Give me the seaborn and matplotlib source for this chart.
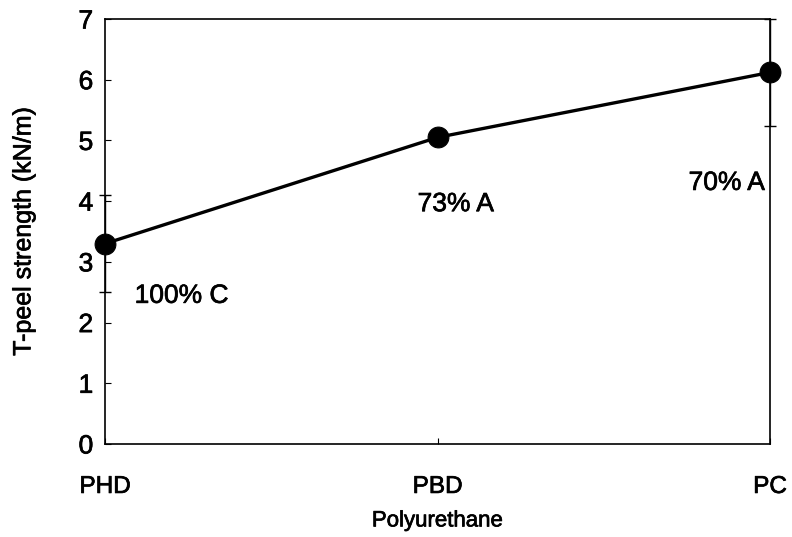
import matplotlib
matplotlib.use("Agg")
import matplotlib.pyplot as plt
import matplotlib.patheffects as pe
import seaborn as sns
import pandas as pd

sns.set_theme(style="white")
plt.rcParams["font.family"] = ["Liberation Sans", "DejaVu Sans"]

# T-peel strength of joints made with each polyurethane
polyurethanes = ["PHD", "PBD", "PC"]
strength = [3.3, 5.05, 6.12]
strength_err = [0.8, 0.0, 0.88]
failure_labels = ["100% C", "73% A", "70% A"]
label_pos = [(0.23, 2.44), (1.055, 3.95), (1.87, 4.30)]

df = pd.DataFrame({"Polyurethane": polyurethanes, "strength": strength})
df["pos"] = range(len(df))

heavy = [pe.withStroke(linewidth=0.5, foreground="black")]

fig = plt.figure(figsize=(7.92, 5.37), dpi=100)
ax = fig.add_axes([0.1326, 0.1732, 0.8396, 0.7914])

ax.errorbar(df["pos"], df["strength"], yerr=strength_err, fmt="none",
            ecolor="black", elinewidth=1.0, capsize=4.3, capthick=1.0,
            zorder=2, clip_on=False)
sns.lineplot(data=df, x="pos", y="strength", ax=ax, color="black",
             linewidth=2.4, marker="o", markersize=15,
             markeredgecolor="black", markerfacecolor="black",
             zorder=3, clip_on=False)

for txt, (x, y) in zip(failure_labels, label_pos):
    ax.text(x, y, txt, ha="center", va="center", fontsize=19,
            color="black", path_effects=heavy)

ax.set_xlim(0, 2)
ax.set_ylim(0, 7)
ax.set_xticks(df["pos"])
ax.set_xticklabels(polyurethanes)
ax.set_yticks(range(0, 8))

for side in ["left", "right", "top", "bottom"]:
    ax.spines[side].set_visible(True)
    ax.spines[side].set_color("black")
    ax.spines[side].set_linewidth(1.2)

ax.tick_params(axis="y", direction="in", length=4.5, width=0.8,
               labelsize=19, pad=8.5, colors="black", left=True)
ax.tick_params(axis="x", direction="in", length=4, width=0.8,
               labelsize=17.5, pad=23, colors="black", bottom=True)
for lab in ax.get_xticklabels() + ax.get_yticklabels():
    lab.set_path_effects(heavy)

ax.set_xlabel("Polyurethane", fontsize=16, labelpad=9, color="black",
              path_effects=heavy)
ax.set_ylabel("T-peel strength (kN/m)", fontsize=18, labelpad=31,
              color="black", path_effects=heavy)

fig.savefig("out.png", dpi=100, facecolor="white")
